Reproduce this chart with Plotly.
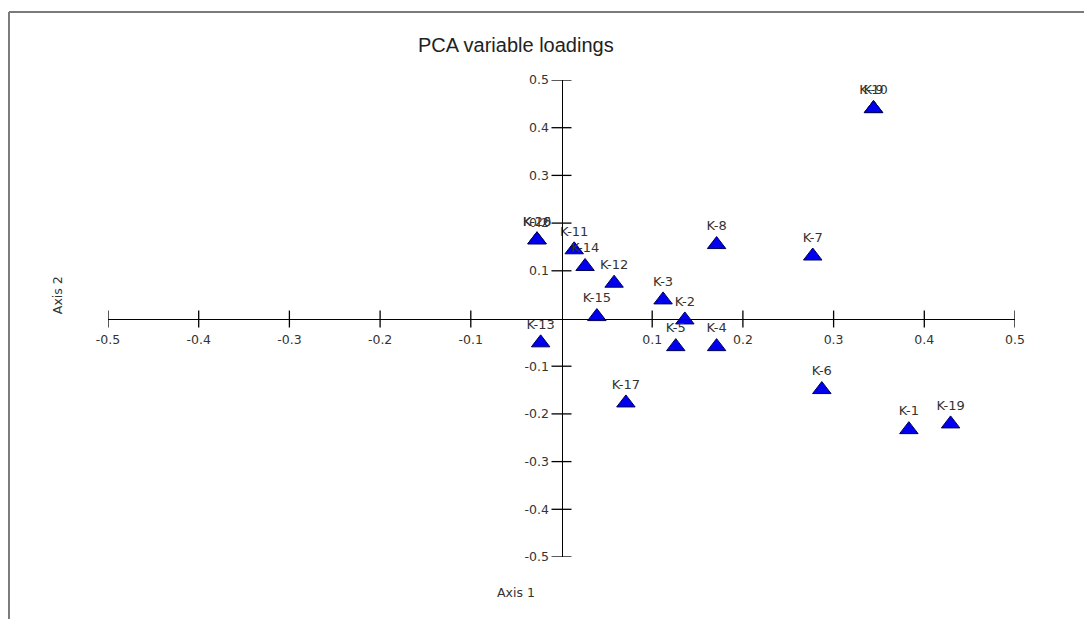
import plotly.graph_objects as go

# ---- data ----
labels = ["K-1", "K-2", "K-3", "K-4", "K-5", "K-6", "K-7", "K-8", "K-9", "K-10",
          "K-11", "K-12", "K-13", "K-14", "K-15", "K-16", "K-17", "K-18", "K-19", "K-20"]
axis1 = [0.383, 0.136, 0.112, 0.171, 0.126, 0.287, 0.277, 0.171, 0.344, 0.344,
         0.014, 0.058, -0.023, 0.026, 0.039, -0.027, 0.071, 0.255, 0.429, -0.027]
axis2 = [-0.233, -0.003, 0.039, -0.059, -0.059, -0.149, 0.131, 0.155, 0.440, 0.440,
         0.144, 0.074, -0.051, 0.109, 0.004, 0.165, -0.177, -0.504, -0.221, 0.165]

x_ticks = [-0.5, -0.4, -0.3, -0.2, -0.1, 0.1, 0.2, 0.3, 0.4, 0.5]
y_ticks = [0.5, 0.4, 0.3, 0.2, 0.1, -0.1, -0.2, -0.3, -0.4, -0.5]
x_ticktext = ["-0.5", "-0.4", "-0.3", "-0.2", "-0.1", "0.1", "0.2", "0.3", "0.4", "0.5"]
y_ticktext = ["0.5", "0.4", "0.3", "0.2", "0.1", "-0.1", "-0.2", "-0.3", "-0.4", "-0.5"]

FONT = "DejaVu Sans, Verdana, sans-serif"
TITLE_FONT = "Liberation Sans, Arial, sans-serif"
TXT = "#333333"

fig = go.Figure()
fig.add_trace(go.Scatter(
    x=axis1, y=axis2, text=labels, mode="markers+text",
    textposition="top center",
    textfont=dict(family=FONT, size=13, color=TXT),
    marker=dict(symbol="triangle-up", size=16, color="#0000EE",
                line=dict(color="#00005A", width=1)),
    cliponaxis=False, showlegend=False, hoverinfo="text",
))

shapes = []
# cross-shaped ticks on the axes through the origin
for t in x_ticks:
    shapes.append(dict(type="line", xref="x", yref="y", ysizemode="pixel", yanchor=0,
                       x0=t, x1=t, y0=-9, y1=8, line=dict(color="black", width=1.3)))
for t in y_ticks:
    shapes.append(dict(type="line", xref="x", yref="y", xsizemode="pixel", xanchor=0,
                       y0=t, y1=t, x0=-10, x1=10, line=dict(color="black", width=1.3)))
# frame (left and top edges of the window)
shapes.append(dict(type="line", xref="paper", yref="paper", x0=-0.1092, x1=-0.1092,
                   y0=-0.14, y1=1.1426, line=dict(color="#7a7a7a", width=2)))
shapes.append(dict(type="line", xref="paper", yref="paper", x0=-0.1092, x1=1.09,
                   y0=1.1426, y1=1.1426, line=dict(color="#7a7a7a", width=2)))

fig.update_layout(
    width=1076, height=611,
    margin=dict(l=100, r=69, t=72, b=62),
    paper_bgcolor="white", plot_bgcolor="white",
    font=dict(family=FONT, size=12, color=TXT),
    shapes=shapes,
    xaxis=dict(range=[-0.5, 0.5], anchor="free", position=0.5,
               showline=True, linecolor="black", linewidth=1.3,
               showgrid=False, zeroline=False,
               tickmode="array", tickvals=x_ticks, ticktext=x_ticktext,
               ticks="outside", ticklen=9, tickcolor="rgba(0,0,0,0)",
               tickfont=dict(family=FONT, size=12.5, color=TXT)),
    yaxis=dict(range=[-0.5, 0.5], anchor="free", position=0.5,
               showline=True, linecolor="black", linewidth=1.3,
               showgrid=False, zeroline=False,
               tickmode="array", tickvals=y_ticks, ticktext=y_ticktext,
               ticks="outside", ticklen=10, tickcolor="rgba(0,0,0,0)",
               tickfont=dict(family=FONT, size=12.5, color=TXT)),
    annotations=[
        dict(text="PCA variable loadings", xref="paper", yref="paper",
             x=0.4498, y=1.0734, xanchor="center", yanchor="middle", showarrow=False,
             font=dict(family=TITLE_FONT, size=20, color="#222222")),
        dict(text="Axis 1", xref="paper", yref="paper", x=0.4498, y=-0.0734,
             xanchor="center", yanchor="middle",
             showarrow=False, font=dict(family=FONT, size=12.5, color=TXT)),
        dict(text="Axis 2", xref="paper", yref="paper", x=-0.0562, y=0.549,
             xanchor="center", yanchor="middle",
             showarrow=False, textangle=-90, font=dict(family=FONT, size=12.5, color=TXT)),
    ],
)

fig.write_html("out.html")
